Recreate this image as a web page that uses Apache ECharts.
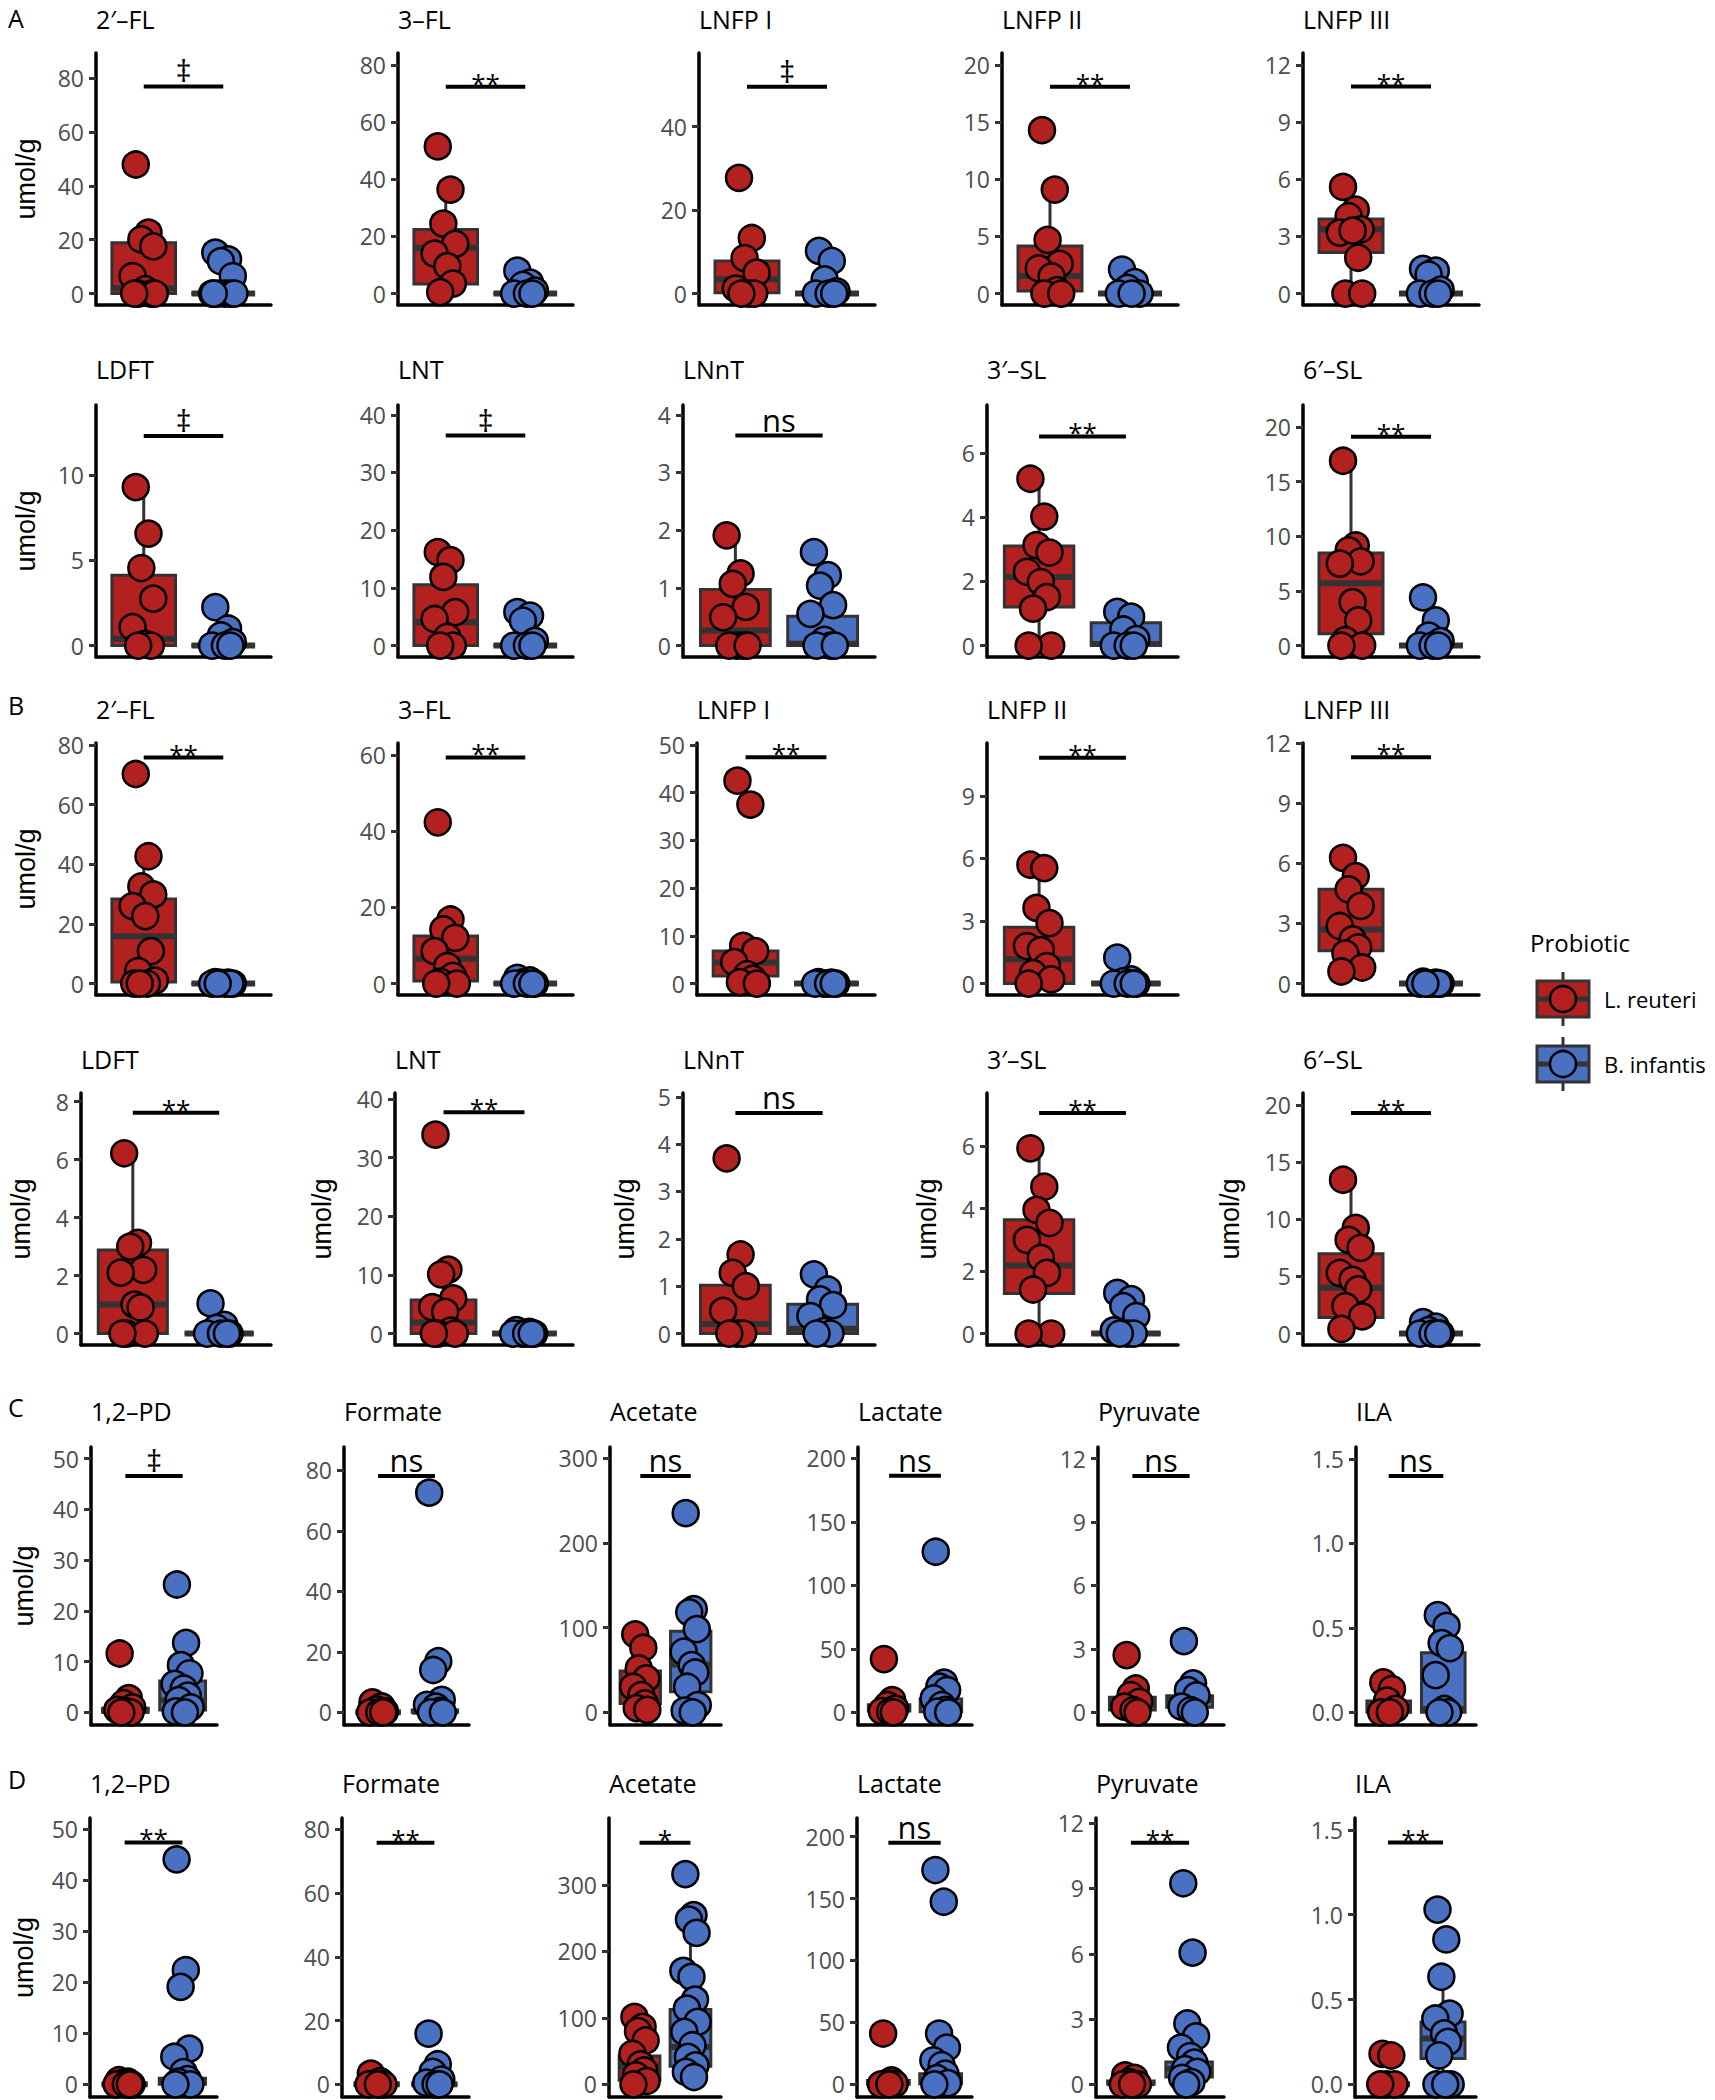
<!DOCTYPE html>
<html>
<head>
<meta charset="utf-8">
<title>Probiotic metabolites</title>
<script src="https://cdn.jsdelivr.net/npm/echarts@6/dist/echarts.min.js"></script>
<style>
  html, body { margin: 0; padding: 0; background: #fff; }
  #chart { width: 1715px; height: 2100px; }
</style>
</head>
<body>
<div id="chart"></div>
<script>
// ---- data (umol/g) ----
const hmoNames = ['2′–FL', '3–FL', 'LNFP I', 'LNFP II', 'LNFP III', 'LDFT', 'LNT', 'LNnT', '3′–SL', '6′–SL'];
const acidNames = ['1,2–PD', 'Formate', 'Acetate', 'Lactate', 'Pyruvate', 'ILA'];
const groups = ['L. reuteri', 'B. infantis'];

// A
const aTicks = [[0,20,40,60,80],[0,20,40,60,80],[0,20,40],[0,5,10,15,20],[0,3,6,9,12],[0,5,10],[0,10,20,30,40],[0,1,2,3,4],[0,2,4,6],[0,5,10,15,20]];
const aTop = [89.3, 84.2, 57.6, 21.05, 12.63, 14.12, 41.7, 4.17, 7.5, 22.0];
const aSig = ['‡','**','‡','**','**','‡','‡','ns','**','**'];
const aSigY = [76.9, 72.4, 49.5, 18.1, 10.87, 12.3, 36.4, 3.64, 6.52, 19.1];
// box: [low whisker, Q1, median, Q3, high whisker]
const aRedBox = [[0,0,2,18.9,22.6],[0.5,3.3,16.0,22.4,36.4],[0,0.2,3.4,7.8,13.3],[0,0.23,1.54,4.16,9.1],[0,2.15,3.37,3.92,5.6],[0,0,0.4,4.12,9.3],[0,0,4.06,10.55,16.2],[0,0,0.26,0.97,1.91],[0,1.2,2.14,3.1,5.2],[0,1.07,5.7,8.46,16.9]];
const aBlueBox = [[0,0,0,0,0],[0,0,0,0,0],[0,0,0,0,0],[0,0,0,0,0],[0,0,0,0,0],[0,0,0,0,0],[0,0,0,0,0],[0,0,0.03,0.51,1.22],[0,0,0.05,0.71,1.05],[0,0,0,0,0]];
const aRedPts = [
  [47.9,22.6,20.1,17.5,6.5,1.6,0,0,0,0],
  [51.5,36.4,24.5,17.4,14.0,9.6,3.5,0.5],
  [27.7,13.3,8.5,5.0,1.2,0,0,0],
  [14.3,9.1,4.7,2.6,2.2,1.5,0.3,0,0],
  [5.6,4.4,4.06,3.37,3.2,3.3,1.88,0,0],
  [9.3,6.57,4.55,2.75,1.08,0.1,0,0],
  [16.2,14.8,11.9,5.8,4.6,1.5,0,0],
  [1.91,1.25,1.07,0.67,0.49,0,0,0,0],
  [5.2,4.02,3.13,2.9,2.3,1.98,1.51,1.15,0,0],
  [16.9,9.16,8.7,7.7,7.5,3.97,2.3,0.5,0,0]
];
const aBluePts = [
  [15.2,12.7,12.0,6.5,0,0,0,0,0,0],
  [8.0,3.8,3.0,1.0,0,0,0],
  [10.2,7.8,3.4,0.5,0,0,0],
  [2.1,1.0,0.5,0,0,0],
  [1.3,1.2,1.0,0.2,0,0,0],
  [2.25,1.0,0.6,0.2,0,0,0],
  [5.8,5.2,4.3,0.8,0,0,0],
  [1.62,1.22,1.04,0.7,0.55,0.1,0,0,0],
  [1.05,0.9,0.5,0.2,0,0,0],
  [4.4,2.3,0.9,0.4,0,0,0]
];

// B
const bTicks = [[0,20,40,60,80],[0,20,40,60],[0,10,20,30,40,50],[0,3,6,9],[0,3,6,9,12],[0,2,4,6,8],[0,10,20,30,40],[0,1,2,3,4,5],[0,2,4,6],[0,5,10,15,20]];
const bTop = [80.7, 63.1, 50.4, 11.54, 12.0, 8.3, 41.0, 5.08, 7.7, 21.05];
const bSig = ['**','**','**','**','**','**','**','ns','**','**'];
const bSigY = [75.8, 59.3, 47.4, 10.83, 11.29, 7.62, 37.7, 4.66, 7.06, 19.3];
const bRedBox = [[0,0.56,15.9,28.4,42.7],[0,0.7,6.5,12.5,16.8],[0,1.6,4.4,6.8,7.9],[0,0,1.16,2.7,5.7],[0.6,1.63,2.7,4.7,6.27],[0,0,1.0,2.88,6.22],[0,0,1.9,5.7,10.9],[0,0,0.2,1.02,1.67],[0,1.28,2.18,3.64,5.93],[0.4,1.4,4.0,6.98,13.46]];
const bBlueBox = [[0,0,0,0,0],[0,0,0,0,0],[0,0,0,0,0],[0,0,0,0,0],[0,0,0,0,0],[0,0,0,0,0],[0,0,0,0,0],[0,0,0.1,0.62,1.25],[0,0,0,0,0],[0,0,0,0,0]];
const bRedPts = [
  [70.3,42.7,32.6,29.9,26,22.6,10.9,4.2,1,0,0,0],
  [42.3,16.8,14.2,12,8.5,4.6,2.0,0.5,0,0],
  [42.5,37.5,7.9,6.8,4.5,1.95,1.0,0.3,0],
  [5.7,5.54,3.63,2.9,1.8,1.6,0.84,0.5,0.2,0],
  [6.27,5.36,4.7,3.87,2.87,2.2,1.8,1.5,0.8,0.6],
  [6.22,3.13,3.0,2.2,2.1,1.0,0.9,0,0,0],
  [33.9,10.9,10.1,6.0,4.5,3.7,0.5,0,0,0],
  [3.7,1.67,1.28,1.0,0.48,0,0,0],
  [5.93,4.7,3.96,3.54,3.0,2.42,1.94,1.41,0,0],
  [13.46,9.24,8.2,7.5,5.3,4.7,3.87,2.4,1.5,0.4]
];
const bBluePts = [
  [0.5,0.3,0.2,0,0,0,0,0],
  [1.5,0.8,0.3,0,0,0,0],
  [0.3,0.2,0,0,0,0,0],
  [1.24,0.2,0.1,0,0,0,0],
  [0.1,0.05,0,0,0,0,0,0],
  [1.04,0.3,0.2,0,0,0,0],
  [0.6,0.3,0,0,0,0,0],
  [1.25,0.93,0.72,0.6,0.37,0.05,0,0],
  [1.3,1.1,0.88,0.56,0.1,0,0,0],
  [1.0,0.6,0.3,0,0,0,0]
];

// C
const cTicks = [[0,10,20,30,40,50],[0,20,40,60,80],[0,100,200,300],[0,50,100,150,200],[0,3,6,9,12],[0,0.5,1,1.5]];
const cTop = [52.3, 87.7, 313, 209, 12.55, 1.57];
const cSig = ['‡','ns','ns','ns','ns','ns'];
const cSigY = [46.6, 78.1, 278.8, 186.4, 11.18, 1.398];
const cRedBox = [[0,0,0.3,0.8,1.8],[0,0,0,0,0],[2.7,10.6,32,48.7,92],[0,1,3,6,9.7],[0,0.11,0.43,0.71,1.13],[0,0,0.033,0.067,0.138]];
const cBlueBox = [[0,0.46,2.4,6.17,13.7],[0,0,0.2,0.8,1.9],[0,24.3,56.5,95.8,121.7],[0,0.5,5.8,10.5,23.4],[0,0.24,0.58,0.79,1.37],[0,0,0.02,0.352,0.575]];
const cRedPts = [
  [11.6,2.8,1.8,1.0,0.5,0.2,0,0],
  [3.3,2.0,1.0,0.3,0,0,0],
  [92,76.2,51.8,40,30.2,20.4,10.6,5,3],
  [42,9.7,5.8,3,1.0,0.5,0],
  [2.71,1.13,0.82,0.5,0.27,0.1,0],
  [0.177,0.138,0.07,0.02,0,0]
];
const cBluePts = [
  [25.2,13.7,9.3,7.7,5.6,4.7,3.3,2.4,1.0,0.2,0],
  [72.6,16.9,14,4.1,2.5,1.9,0.5,0,0],
  [235,121.7,118,98.2,71.5,55.8,47,30.2,8.6,2,0],
  [126.5,23.4,20.2,17.6,11,5.8,2,0.5,0],
  [3.37,1.37,1.05,0.8,0.27,0.1,0],
  [0.575,0.512,0.41,0.38,0.22,0.02,0,0]
];

// D
const dTicks = [[0,10,20,30,40,50],[0,20,40,60,80],[0,100,200,300],[0,50,100,150,200],[0,3,6,9,12],[0,0.5,1,1.5]];
const dTop = [52.2, 83.6, 401, 215, 12.24, 1.57];
const dSig = ['**','**','*','ns','**','**'];
const dSigY = [47.4, 75.8, 363.8, 195, 11.1, 1.425];
const dRedBox = [[0,0,0,0,0],[0,0,0,0,0],[0,6,27,42.7,86.4],[0,0,1,3,3.2],[0,0,0.05,0.15,0.41],[0,0,0,0,0]];
const dBlueBox = [[0,0,0.5,1.2,2.4],[0,0,0,0,0],[11,27.1,56.3,112.6,228],[0,0.5,3.2,8.6,19.4],[0,0.34,0.72,1.03,1.69],[0,0.152,0.27,0.368,0.634]];
const dRedPts = [
  [0.8,0.5,0.3,0,0,0,0],
  [3.35,1.0,0.3,0,0,0],
  [101.5,86.4,80,66,46,30,21,13.6,5,0],
  [41,3.2,1.0,0.5,0,0],
  [0.41,0.3,0.1,0,0,0],
  [0.18,0.17,0,0,0]
];
const dBluePts = [
  [44.1,22.4,19.1,7.0,5.4,2.4,1.0,0.5,0,0],
  [15.9,6.3,3.9,1.5,0.5,0,0],
  [316.6,254.8,248,228,170.9,161.8,127.6,114,94,78.9,58.8,41.2,28.6,18.6,11],
  [173,147.4,41,29.6,19.4,15.4,8.6,5,1,0],
  [9.24,6.05,2.8,2.2,1.69,1.3,1.0,0.7,0.57,0.3,0.1,0],
  [1.03,0.854,0.634,0.417,0.388,0.3,0.25,0.17,0,0,0]
];

// ---- look & layout ----
const RED = '#B2201F', BLUE = '#4A70C2';
const FONT = '"Open Sans", "Noto Sans", sans-serif';
const JIT = [-0.1, 0.06, -0.03, 0.12, -0.14, 0.02, 0.09, -0.07, 0.14, -0.12, 0.04, -0.05, 0.1, -0.09, 0.07, -0.01];
const AB_RIGHT = [271, 573, 875, 1178, 1479];
const CD_RIGHT = [217, 469, 721, 972, 1224, 1476];

const sections = [
  { letter: 'A', letterY: 18, names: hmoNames, ticks: aTicks, top: aTop, sig: aSig, sigY: aSigY,
    redBox: aRedBox, blueBox: aBlueBox, redPts: aRedPts, bluePts: aBluePts, perRow: 5, rights: AB_RIGHT,
    rows: [ { top: 53, bottom: 305, titleY: 19, lefts: [96, 398, 699, 1002, 1303], gaps: [57] },
            { top: 405, bottom: 657, titleY: 369, lefts: [96, 398, 683, 987, 1303], gaps: [57] } ] },
  { letter: 'B', letterY: 705, names: hmoNames, ticks: bTicks, top: bTop, sig: bSig, sigY: bSigY,
    redBox: bRedBox, blueBox: bBlueBox, redPts: bRedPts, bluePts: bBluePts, perRow: 5, rights: AB_RIGHT,
    rows: [ { top: 743, bottom: 995, titleY: 709, lefts: [96, 398, 697, 987, 1303], gaps: [57] },
            { top: 1093, bottom: 1345, titleY: 1059, lefts: [81, 395, 683, 987, 1303], gaps: [47, 60, 45, 47, 60] } ] },
  { letter: 'C', letterY: 1407, names: acidNames, ticks: cTicks, top: cTop, sig: cSig, sigY: cSigY,
    redBox: cRedBox, blueBox: cBlueBox, redPts: cRedPts, bluePts: cBluePts, perRow: 6, rights: CD_RIGHT,
    rows: [ { top: 1447, bottom: 1725, titleY: 1411, lefts: [91, 344, 610, 858, 1098, 1356], gaps: [54] } ] },
  { letter: 'D', letterY: 1779, names: acidNames, ticks: dTicks, top: dTop, sig: dSig, sigY: dSigY,
    redBox: dRedBox, blueBox: dBlueBox, redPts: dRedPts, bluePts: dBluePts, perRow: 6, rights: CD_RIGHT,
    rows: [ { top: 1818, bottom: 2097, titleY: 1783, lefts: [90, 342, 609, 857, 1096, 1355], gaps: [53] } ] }
];

function renderBox(params, api) {
  const x = api.value(0);
  const lo = api.coord([x, api.value(1)]);
  const q1 = api.coord([x, api.value(2)]);
  const med = api.coord([x, api.value(3)]);
  const q3 = api.coord([x, api.value(4)]);
  const hi = api.coord([x, api.value(5)]);
  const w = api.size([0.8, 0])[0];
  const fill = params.dataIndex === 0 ? RED : BLUE;
  const dark = '#333333';
  return {
    type: 'group',
    children: [
      { type: 'line', shape: { x1: lo[0], y1: lo[1], x2: q1[0], y2: q1[1] }, style: { stroke: dark, lineWidth: 3 } },
      { type: 'line', shape: { x1: q3[0], y1: q3[1], x2: hi[0], y2: hi[1] }, style: { stroke: dark, lineWidth: 3 } },
      { type: 'rect', shape: { x: q3[0] - w / 2, y: q3[1], width: w, height: q1[1] - q3[1] },
        style: { fill: fill, stroke: dark, lineWidth: 3 } },
      { type: 'line', shape: { x1: med[0] - w / 2, y1: med[1], x2: med[0] + w / 2, y2: med[1] },
        style: { stroke: dark, lineWidth: 6 } }
    ]
  };
}

function sigRenderer(label) {
  return function (params, api) {
    const a = api.coord([api.value(0), api.value(2)]);
    const b = api.coord([api.value(1), api.value(2)]);
    const star = label.indexOf('*') >= 0;
    return {
      type: 'group',
      children: [
        { type: 'line', shape: { x1: a[0], y1: a[1], x2: b[0], y2: b[1] }, style: { stroke: '#000', lineWidth: 4 } },
        { type: 'text', x: (a[0] + b[0]) / 2, y: a[1] - (star ? 4 : 16),
          style: { text: label, fill: '#000', fontSize: star ? 26 : 31, fontFamily: FONT, align: 'center', verticalAlign: 'middle' } }
      ]
    };
  };
}

const grids = [], xAxes = [], yAxes = [], series = [], graphics = [];

sections.forEach(function (sec) {
  graphics.push({ type: 'text', x: 8, y: sec.letterY, style: { text: sec.letter, fill: '#000', fontSize: 25, fontFamily: FONT, verticalAlign: 'middle' } });
  sec.names.forEach(function (name, p) {
    const row = sec.rows[Math.floor(p / sec.perRow)];
    const col = p % sec.perRow;
    const left = row.lefts[col], right = sec.rights[col];
    const gi = grids.length;
    const ticks = sec.ticks[p];
    const decimals = ticks.some(function (t) { return t % 1 !== 0; });
    const gap = row.gaps.length > 1 ? row.gaps[col] : (col === 0 ? row.gaps[0] : null);

    grids.push({ left: left, top: row.top, width: right - left, height: row.bottom - row.top });
    xAxes.push({
      gridIndex: gi, type: 'value', min: 0.4, max: 2.6,
      axisLine: { show: true, onZero: false, lineStyle: { color: '#000', width: 3.5 } },
      axisTick: { show: false }, axisLabel: { show: false }, splitLine: { show: false }
    });
    yAxes.push({
      gridIndex: gi, type: 'value', min: -sec.top[p] / 21, max: sec.top[p],
      name: gap !== null ? 'umol/g' : '', nameLocation: 'middle', nameGap: gap !== null ? gap : 0,
      nameTextStyle: { fontSize: 27, color: '#000', fontFamily: '"Liberation Sans", Arial, sans-serif' },
      axisLine: { show: true, onZero: false, lineStyle: { color: '#000', width: 3.5 } },
      axisTick: { show: true, length: 7, customValues: ticks, lineStyle: { color: '#333', width: 3 } },
      axisLabel: { customValues: ticks, fontSize: 23, color: '#4d4d4d', fontFamily: FONT, margin: 12,
        formatter: function (v) { return decimals ? v.toFixed(1) : String(v); } },
      splitLine: { show: false }
    });
    graphics.push({ type: 'text', x: left, y: row.titleY,
      style: { text: name, fill: '#000', fontSize: 25, fontFamily: FONT, verticalAlign: 'middle' } });

    series.push({
      type: 'custom', xAxisIndex: gi, yAxisIndex: gi, z: 1, renderItem: renderBox,
      encode: { x: 0, y: [1, 2, 3, 4, 5] },
      data: [[1].concat(sec.redBox[p]), [2].concat(sec.blueBox[p])]
    });
    [[sec.redPts[p], 1, RED], [sec.bluePts[p], 2, BLUE]].forEach(function (g) {
      series.push({
        type: 'scatter', xAxisIndex: gi, yAxisIndex: gi, z: 3, symbolSize: 26,
        itemStyle: { color: g[2], borderColor: '#000', borderWidth: 2.5, opacity: 1 },
        data: g[0].map(function (v, i) { return [g[1] + JIT[i % JIT.length], v]; })
      });
    });
    series.push({
      type: 'custom', xAxisIndex: gi, yAxisIndex: gi, z: 4, renderItem: sigRenderer(sec.sig[p]),
      encode: { x: [0, 1], y: 2 }, data: [[1, 2, sec.sigY[p]]]
    });
  });
});

// legend drawn as boxplot keys
graphics.push({ type: 'text', x: 1530, y: 942, style: { text: 'Probiotic', fill: '#000', fontSize: 24, fontFamily: FONT, verticalAlign: 'middle' } });
[[999, RED, groups[0]], [1064, BLUE, groups[1]]].forEach(function (k) {
  const cy = k[0];
  graphics.push({ type: 'group', children: [
    { type: 'line', shape: { x1: 1563, y1: cy - 27, x2: 1563, y2: cy + 27 }, style: { stroke: '#333', lineWidth: 3 } },
    { type: 'rect', shape: { x: 1537, y: cy - 18, width: 52, height: 36 }, style: { fill: k[1], stroke: '#333', lineWidth: 3 } },
    { type: 'line', shape: { x1: 1537, y1: cy, x2: 1589, y2: cy }, style: { stroke: '#333', lineWidth: 5 } },
    { type: 'circle', shape: { cx: 1563, cy: cy, r: 13 }, style: { fill: k[1], stroke: '#000', lineWidth: 2.5 } },
    { type: 'text', x: 1604, y: cy, style: { text: k[2], fill: '#000', fontSize: 22, fontFamily: FONT, verticalAlign: 'middle' } }
  ] });
});

const chart = echarts.init(document.getElementById('chart'), null, { renderer: 'svg' });
chart.setOption({
  animation: false,
  backgroundColor: '#fff',
  grid: grids,
  xAxis: xAxes,
  yAxis: yAxes,
  series: series,
  graphic: graphics
});
window.addEventListener('resize', function () { chart.resize(); });
</script>
</body>
</html>
